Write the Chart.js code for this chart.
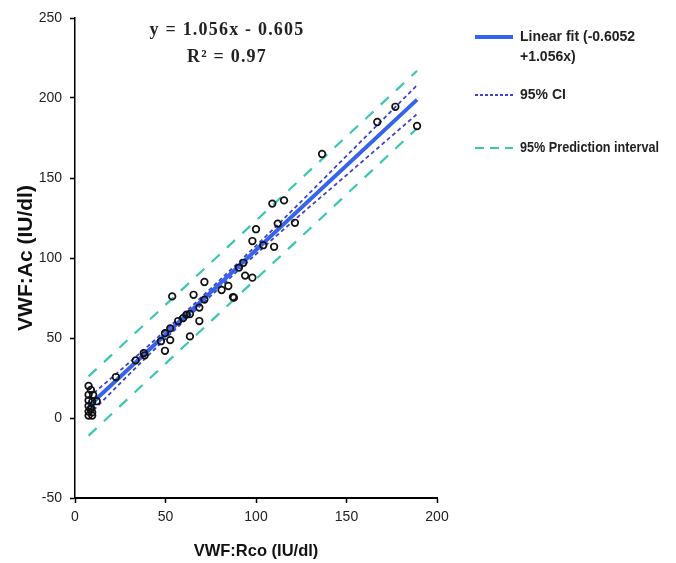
<!DOCTYPE html>
<html>
<head>
<meta charset="utf-8">
<script src="https://cdn.jsdelivr.net/npm/chart.js@4/dist/chart.umd.min.js"></script>
<style>
  body { margin: 0; background: #fff; }
  #wrap { width: 676px; height: 563px; }
</style>
</head>
<body>
<div id="wrap"><canvas id="fit" width="676" height="563"></canvas></div>
<script>
// measured points: VWF:Rco (x) vs VWF:Ac (y)
const rco = [7.5, 8.8, 7.5, 10, 7.5, 9.5, 12, 7.5, 9, 7.5, 9.5, 7.5, 9.5, 8.5,
  22.6, 33.5, 38, 38.5, 47.5, 49.7, 49.7, 52.6, 52.6, 53.7, 57, 59.7, 61.6, 63.5, 63.5,
  65.5, 68.7, 68.7, 71.5, 71.5, 81, 84.7, 87.3, 87.8, 90.6, 93, 94, 98, 98, 100, 104,
  109, 110, 112, 115.5, 121.5, 136.5, 167, 177, 189];
const ac = [20, 17.5, 14.5, 14.5, 11, 10, 10.5, 7.5, 6, 4, 3.5, 1.5, 1.5, 5.5,
  25.6, 36, 40.6, 39.2, 48, 53, 42, 56, 48.7, 76, 60.6, 62.4, 64.6, 65, 51,
  77, 69, 60.6, 74, 85, 80, 82.5, 75.6, 75.2, 94, 97, 89, 87.7, 110.6, 118, 108,
  134, 107, 121.5, 136, 122, 165, 185, 194.5, 182.5];

// fitted line ends
const fitX = [7.5, 189];
const fitY = [7.3, 199];

// 95% confidence band
const ciX = [7.5, 40, 75, 110, 150, 189];
const ciUpper = [12.8, 44.6, 80.9, 118.6, 163.8, 208];
const ciLower = [1.8, 38.6, 76.3, 112.6, 151.8, 190];

// 95% prediction band
const piX = [7.5, 189];
const piUpper = [26, 217];
const piLower = [-11, 181];

const xTicks = [0, 50, 100, 150, 200];
const yTicks = [-50, 0, 50, 100, 150, 200, 250];

const legendItems = [
  { lines: ['Linear fit (-0.6052', '+1.056x)'], color: '#3563e9', width: 4, dash: [] },
  { lines: ['95% CI'], color: '#4040d0', width: 1.8, dash: [3, 2] },
  { lines: ['95% Prediction interval'], color: '#3cc6b2', width: 2.2, dash: [9, 6] }
];

function pairs(xs, ys) {
  return xs.map(function (x, i) { return { x: x, y: ys[i] }; });
}

const overlay = {
  id: 'overlay',
  afterDraw: function (chart) {
    const ctx = chart.ctx;
    ctx.save();
    // regression text
    ctx.fillStyle = '#222';
    ctx.textAlign = 'center';
    ctx.textBaseline = 'middle';
    ctx.font = 'bold 18px "Liberation Serif", "DejaVu Serif", serif';
    ctx.letterSpacing = '1.2px';
    ctx.fillText('y = 1.056x - 0.605', 227, 30);
    ctx.fillText('R\u00B2 = 0.97', 227, 57);
    ctx.letterSpacing = '0px';

    // legend
    const ys = [37, 95, 148];
    ctx.textAlign = 'left';
    ctx.font = 'bold 14px "Liberation Sans Narrow", "Liberation Sans", Arial, sans-serif';
    legendItems.forEach(function (item, i) {
      const y = ys[i];
      ctx.beginPath();
      ctx.strokeStyle = item.color;
      ctx.lineWidth = item.width;
      ctx.setLineDash(item.dash);
      ctx.moveTo(475, y);
      ctx.lineTo(513, y);
      ctx.stroke();
      ctx.setLineDash([]);
      ctx.fillStyle = '#222';
      item.lines.forEach(function (t, k) {
        const w = ctx.measureText(t).width;
        const target = t.length > 15 ? 139 : w;
        ctx.fillText(t, 520, y + k * 20, Math.min(w, target));
      });
    });
    ctx.restore();
  }
};

new Chart(document.getElementById('fit'), {
  type: 'scatter',
  data: {
    datasets: [
      {
        label: 'data',
        data: pairs(rco, ac),
        pointStyle: 'circle',
        pointRadius: 3.3,
        borderColor: '#111',
        borderWidth: 1.7,
        backgroundColor: 'rgba(0,0,0,0)',
        showLine: false,
        order: 0
      },
      {
        label: 'fit',
        data: pairs(fitX, fitY),
        showLine: true,
        pointRadius: 0,
        borderColor: '#3563e9',
        borderWidth: 4,
        order: 1
      },
      {
        label: 'ci up',
        data: pairs(ciX, ciUpper),
        showLine: true,
        pointRadius: 0,
        borderColor: '#4040d0',
        borderWidth: 1.8,
        borderDash: [4, 3],
        cubicInterpolationMode: 'monotone',
        order: 2
      },
      {
        label: 'ci low',
        data: pairs(ciX, ciLower),
        showLine: true,
        pointRadius: 0,
        borderColor: '#4040d0',
        borderWidth: 1.8,
        borderDash: [4, 3],
        cubicInterpolationMode: 'monotone',
        order: 2
      },
      {
        label: 'pi up',
        data: pairs(piX, piUpper),
        showLine: true,
        pointRadius: 0,
        borderColor: '#3cc6b2',
        borderWidth: 2.2,
        borderDash: [11, 10],
        order: 3
      },
      {
        label: 'pi low',
        data: pairs(piX, piLower),
        showLine: true,
        pointRadius: 0,
        borderColor: '#3cc6b2',
        borderWidth: 2.2,
        borderDash: [11, 10],
        order: 3
      }
    ]
  },
  options: {
    responsive: false,
    animation: false,
    layout: { padding: { left: 0, right: 239, top: 18, bottom: 0 } },
    plugins: {
      legend: { display: false },
      tooltip: { enabled: false }
    },
    scales: {
      x: {
        type: 'linear',
        min: 0,
        max: 200,
        afterFit: function (s) { s.height = 65; },
        afterBuildTicks: function (s) { s.ticks = xTicks.map(function (v) { return { value: v }; }); },
        border: { display: true, color: '#000', width: 2 },
        grid: { drawOnChartArea: false, tickLength: 5, tickColor: '#000', tickWidth: 1.5 },
        ticks: { color: '#222', padding: 6, font: { family: '"Liberation Sans", Arial, sans-serif', size: 14 } },
        title: {
          display: true,
          text: 'VWF:Rco (IU/dl)',
          color: '#111',
          padding: { top: 0, bottom: 2 },
          font: { family: '"Liberation Sans", Arial, sans-serif', size: 16.5, weight: 'bold' }
        }
      },
      y: {
        type: 'linear',
        min: -50,
        max: 250,
        afterFit: function (s) { s.width = 75; },
        afterBuildTicks: function (s) { s.ticks = yTicks.map(function (v) { return { value: v }; }); },
        border: { display: true, color: '#000', width: 1.5 },
        grid: { drawOnChartArea: false, tickLength: 5, tickColor: '#000', tickWidth: 1.5 },
        ticks: { color: '#222', padding: 8, font: { family: '"Liberation Sans", Arial, sans-serif', size: 14 } },
        title: {
          display: true,
          text: 'VWF:Ac (IU/dl)',
          color: '#111',
          padding: { top: 14, bottom: 0 },
          font: { family: '"Liberation Sans", Arial, sans-serif', size: 21, weight: 'bold' }
        }
      }
    }
  },
  plugins: [overlay]
});
</script>
</body>
</html>
